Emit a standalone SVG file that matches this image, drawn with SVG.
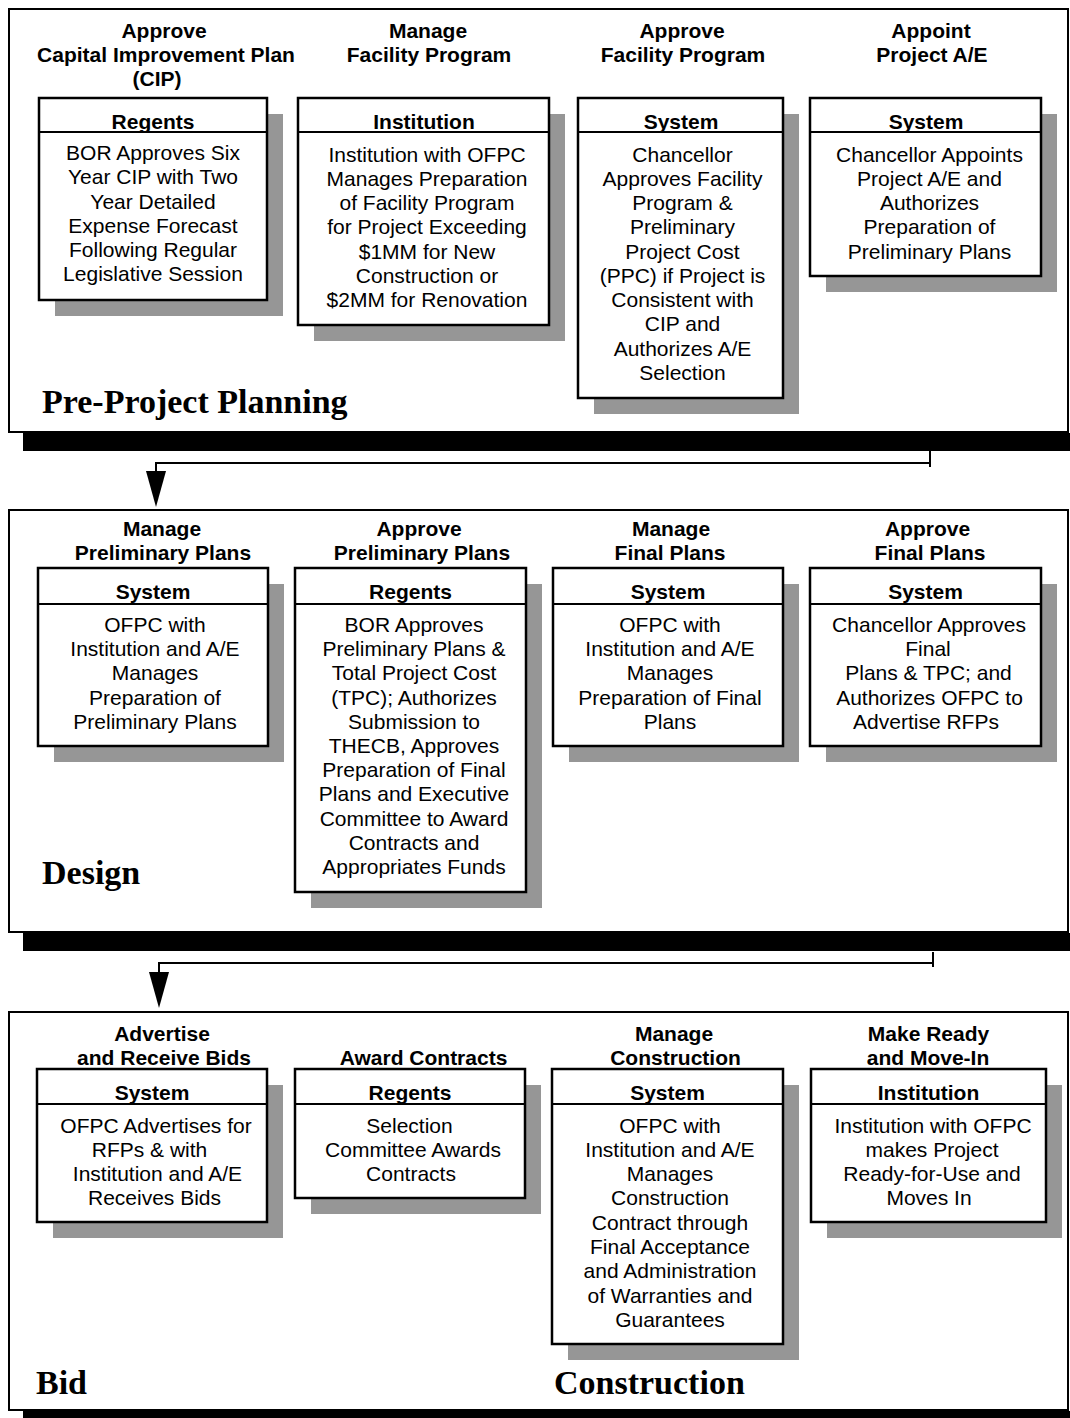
<svg xmlns="http://www.w3.org/2000/svg" width="1070" height="1418" viewBox="0 0 1070 1418">
<defs>
<style>
.panel{fill:#fff;stroke:#000;stroke-width:2}
.bar{fill:#000}
.shadow{fill:#969696}
.box{fill:#fff;stroke:#000;stroke-width:2.5}
.div{stroke:#000;stroke-width:2}
.t{font-family:"Liberation Sans",Arial,sans-serif;font-size:21px;text-anchor:middle;fill:#000}
.b{font-weight:bold}
.lbl{font-family:"Liberation Serif","Times New Roman",serif;font-size:34px;font-weight:bold;fill:#000}
.conn{fill:none;stroke:#000;stroke-width:2}
</style>
<marker id="arr" markerUnits="userSpaceOnUse" viewBox="0 0 36 20" refX="30" refY="10" markerWidth="36" markerHeight="20" orient="auto">
<path d="M0,0 L36,10 L0,20 Z" fill="#000"/>
</marker>
</defs>
<rect width="1070" height="1418" fill="#fff"/>

<g id="panel-preproject">
<rect class="bar" x="23" y="433" width="1047" height="18"/>
<rect class="panel" x="9" y="9" width="1059" height="423"/>
<text class="lbl" x="42" y="413">Pre-Project Planning</text>
</g>
<g id="panel-design">
<rect class="bar" x="23" y="933" width="1047" height="18"/>
<rect class="panel" x="9" y="510" width="1059" height="422"/>
<text class="lbl" x="42" y="884">Design</text>
</g>
<g id="panel-bid">
<rect class="bar" x="23" y="1411" width="1047" height="7"/>
<rect class="panel" x="9" y="1012" width="1059" height="398"/>
<text class="lbl" x="36" y="1394">Bid</text>
<text class="lbl" x="554" y="1394">Construction</text>
</g>

<g id="connectors">
<path class="conn" d="M930,451 V467 M930,463 H156 V501" marker-end="url(#arr)"/>
<path class="conn" d="M933,952 V967 M933,963 H159 V1002" marker-end="url(#arr)"/>
</g>

<g id="n-approve-cip">
<text class="t b" y="38"><tspan x="164">Approve</tspan><tspan x="166" dy="24">Capital Improvement Plan</tspan><tspan x="157" dy="24">(CIP)</tspan></text>
<rect class="shadow" x="55" y="114" width="228" height="202"/>
<rect class="box" x="39" y="98" width="228" height="202"/>
<line class="div" x1="39" y1="132" x2="267" y2="132"/>
<text class="t b" x="153" y="128.5">Regents</text>
<text class="t" y="160"><tspan x="153">BOR Approves Six</tspan><tspan x="153" dy="24.25">Year CIP with Two</tspan><tspan x="153" dy="24.25">Year Detailed</tspan><tspan x="153" dy="24.25">Expense Forecast</tspan><tspan x="153" dy="24.25">Following Regular</tspan><tspan x="153" dy="24.25">Legislative Session</tspan></text>
</g>

<g id="n-manage-facility">
<text class="t b" y="38"><tspan x="428">Manage</tspan><tspan x="429" dy="24">Facility Program</tspan></text>
<rect class="shadow" x="314" y="114" width="251" height="227"/>
<rect class="box" x="298" y="98" width="251" height="227"/>
<line class="div" x1="298" y1="132" x2="549" y2="132"/>
<text class="t b" x="424" y="128.5">Institution</text>
<text class="t" y="161.5"><tspan x="427">Institution with OFPC</tspan><tspan x="427" dy="24.25">Manages Preparation</tspan><tspan x="427" dy="24.25">of Facility Program</tspan><tspan x="427" dy="24.25">for Project Exceeding</tspan><tspan x="427" dy="24.25">$1MM for New</tspan><tspan x="427" dy="24.25">Construction or</tspan><tspan x="427" dy="24.25">$2MM for Renovation</tspan></text>
</g>

<g id="n-approve-facility">
<text class="t b" y="38"><tspan x="682">Approve</tspan><tspan x="683" dy="24">Facility Program</tspan></text>
<rect class="shadow" x="594" y="114" width="205" height="300"/>
<rect class="box" x="578" y="98" width="205" height="300"/>
<line class="div" x1="578" y1="132" x2="783" y2="132"/>
<text class="t b" x="681" y="128.5">System</text>
<text class="t" y="161.5"><tspan x="682.5">Chancellor</tspan><tspan x="682.5" dy="24.25">Approves Facility</tspan><tspan x="682.5" dy="24.25">Program &amp;</tspan><tspan x="682.5" dy="24.25">Preliminary</tspan><tspan x="682.5" dy="24.25">Project Cost</tspan><tspan x="682.5" dy="24.25">(PPC) if Project is</tspan><tspan x="682.5" dy="24.25">Consistent with</tspan><tspan x="682.5" dy="24.25">CIP and</tspan><tspan x="682.5" dy="24.25">Authorizes A/E</tspan><tspan x="682.5" dy="24.25">Selection</tspan></text>
</g>

<g id="n-appoint-ae">
<text class="t b" y="38"><tspan x="931">Appoint</tspan><tspan x="932" dy="24">Project A/E</tspan></text>
<rect class="shadow" x="826" y="114" width="231" height="178"/>
<rect class="box" x="810" y="98" width="231" height="178"/>
<line class="div" x1="810" y1="132" x2="1041" y2="132"/>
<text class="t b" x="926" y="128.5">System</text>
<text class="t" y="161.5"><tspan x="929.5">Chancellor Appoints</tspan><tspan x="929.5" dy="24.25">Project A/E and</tspan><tspan x="929.5" dy="24.25">Authorizes</tspan><tspan x="929.5" dy="24.25">Preparation of</tspan><tspan x="929.5" dy="24.25">Preliminary Plans</tspan></text>
</g>

<g id="n-manage-prelim">
<text class="t b" y="536"><tspan x="162">Manage</tspan><tspan x="163" dy="24">Preliminary Plans</tspan></text>
<rect class="shadow" x="54" y="584" width="230" height="178"/>
<rect class="box" x="38" y="568" width="230" height="178"/>
<line class="div" x1="38" y1="604" x2="268" y2="604"/>
<text class="t b" x="153" y="599">System</text>
<text class="t" y="632"><tspan x="155">OFPC with</tspan><tspan x="155" dy="24.2">Institution and A/E</tspan><tspan x="155" dy="24.2">Manages</tspan><tspan x="155" dy="24.2">Preparation of</tspan><tspan x="155" dy="24.2">Preliminary Plans</tspan></text>
</g>

<g id="n-approve-prelim">
<text class="t b" y="536"><tspan x="419">Approve</tspan><tspan x="422" dy="24">Preliminary Plans</tspan></text>
<rect class="shadow" x="311" y="584" width="231" height="324"/>
<rect class="box" x="295" y="568" width="231" height="324"/>
<line class="div" x1="295" y1="604" x2="526" y2="604"/>
<text class="t b" x="410.5" y="599">Regents</text>
<text class="t" y="632"><tspan x="414">BOR Approves</tspan><tspan x="414" dy="24.2">Preliminary Plans &amp;</tspan><tspan x="414" dy="24.2">Total Project Cost</tspan><tspan x="414" dy="24.2">(TPC); Authorizes</tspan><tspan x="414" dy="24.2">Submission to</tspan><tspan x="414" dy="24.2">THECB, Approves</tspan><tspan x="414" dy="24.2">Preparation of Final</tspan><tspan x="414" dy="24.2">Plans and Executive</tspan><tspan x="414" dy="24.2">Committee to Award</tspan><tspan x="414" dy="24.2">Contracts and</tspan><tspan x="414" dy="24.2">Appropriates Funds</tspan></text>
</g>

<g id="n-manage-final">
<text class="t b" y="536"><tspan x="671">Manage</tspan><tspan x="670" dy="24">Final Plans</tspan></text>
<rect class="shadow" x="569" y="584" width="230" height="178"/>
<rect class="box" x="553" y="568" width="230" height="178"/>
<line class="div" x1="553" y1="604" x2="783" y2="604"/>
<text class="t b" x="668" y="599">System</text>
<text class="t" y="632"><tspan x="670">OFPC with</tspan><tspan x="670" dy="24.2">Institution and A/E</tspan><tspan x="670" dy="24.2">Manages</tspan><tspan x="670" dy="24.2">Preparation of Final</tspan><tspan x="670" dy="24.2">Plans</tspan></text>
</g>

<g id="n-approve-final">
<text class="t b" y="536"><tspan x="927.5">Approve</tspan><tspan x="930" dy="24">Final Plans</tspan></text>
<rect class="shadow" x="826" y="584" width="231" height="178"/>
<rect class="box" x="810" y="568" width="231" height="178"/>
<line class="div" x1="810" y1="604" x2="1041" y2="604"/>
<text class="t b" x="925.5" y="599">System</text>
<text class="t" y="632"><tspan x="929">Chancellor Approves</tspan><tspan x="928" dy="24.2">Final</tspan><tspan x="928.5" dy="24.2">Plans &amp; TPC; and</tspan><tspan x="929.5" dy="24.2">Authorizes OFPC to</tspan><tspan x="926" dy="24.2">Advertise RFPs</tspan></text>
</g>

<g id="n-advertise">
<text class="t b" y="1041"><tspan x="162">Advertise</tspan><tspan x="164" dy="24">and Receive Bids</tspan></text>
<rect class="shadow" x="53" y="1085" width="230" height="153"/>
<rect class="box" x="37" y="1069" width="230" height="153"/>
<line class="div" x1="37" y1="1104" x2="267" y2="1104"/>
<text class="t b" x="152" y="1100">System</text>
<text class="t" y="1132.5"><tspan x="156">OFPC Advertises for</tspan><tspan x="149.5" dy="24.3">RFPs &amp; with</tspan><tspan x="157.5" dy="24.3">Institution and A/E</tspan><tspan x="154.5" dy="24.3">Receives Bids</tspan></text>
</g>

<g id="n-award">
<text class="t b" x="423.5" y="1065">Award Contracts</text>
<rect class="shadow" x="311" y="1085" width="230" height="129"/>
<rect class="box" x="295" y="1069" width="230" height="129"/>
<line class="div" x1="295" y1="1104" x2="525" y2="1104"/>
<text class="t b" x="410" y="1100">Regents</text>
<text class="t" y="1132.5"><tspan x="409.5">Selection</tspan><tspan x="413" dy="24.3">Committee Awards</tspan><tspan x="411" dy="24.3">Contracts</tspan></text>
</g>

<g id="n-manage-construction">
<text class="t b" y="1041"><tspan x="674">Manage</tspan><tspan x="675.5" dy="24">Construction</tspan></text>
<rect class="shadow" x="568" y="1085" width="231" height="275"/>
<rect class="box" x="552" y="1069" width="231" height="275"/>
<line class="div" x1="552" y1="1104" x2="783" y2="1104"/>
<text class="t b" x="667.5" y="1100">System</text>
<text class="t" y="1132.5"><tspan x="670">OFPC with</tspan><tspan x="670" dy="24.3">Institution and A/E</tspan><tspan x="670" dy="24.3">Manages</tspan><tspan x="670" dy="24.3">Construction</tspan><tspan x="670" dy="24.3">Contract through</tspan><tspan x="670" dy="24.3">Final Acceptance</tspan><tspan x="670" dy="24.3">and Administration</tspan><tspan x="670" dy="24.3">of Warranties and</tspan><tspan x="670" dy="24.3">Guarantees</tspan></text>
</g>

<g id="n-make-ready">
<text class="t b" y="1041"><tspan x="928.5">Make Ready</tspan><tspan x="928" dy="24">and Move-In</tspan></text>
<rect class="shadow" x="827" y="1085" width="235" height="153"/>
<rect class="box" x="811" y="1069" width="235" height="153"/>
<line class="div" x1="811" y1="1104" x2="1046" y2="1104"/>
<text class="t b" x="928.5" y="1100">Institution</text>
<text class="t" y="1132.5"><tspan x="933">Institution with OFPC</tspan><tspan x="932" dy="24.3">makes Project</tspan><tspan x="932" dy="24.3">Ready-for-Use and</tspan><tspan x="929" dy="24.3">Moves In</tspan></text>
</g>
</svg>
